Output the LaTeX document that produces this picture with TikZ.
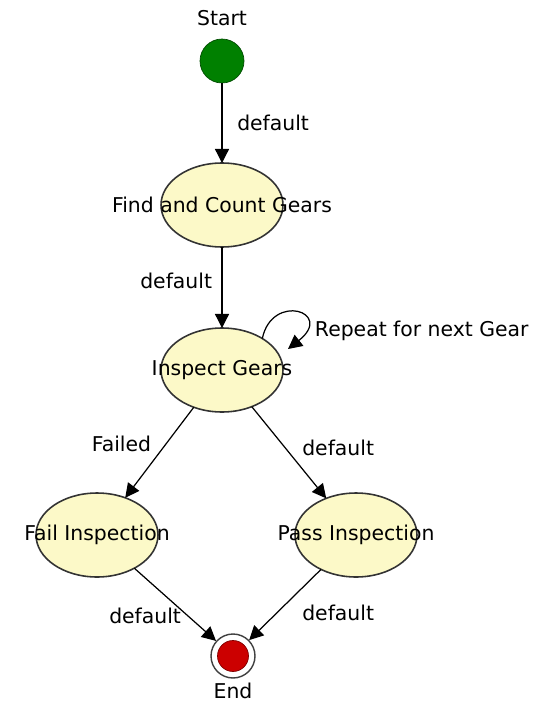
\documentclass[tikz,border=0pt]{standalone}
\usepackage{fontspec}
\setmainfont{DejaVu Sans}
\usetikzlibrary{shapes.geometric,arrows.meta}
\definecolor{stateyellow}{RGB}{252,249,200}
\definecolor{startgreen}{RGB}{0,128,0}
\definecolor{endred}{RGB}{204,0,0}
\newcommand{\lbl}{\fontsize{11.6}{14}\selectfont}

\begin{document}
\begin{tikzpicture}[x=0.02cm,y=-0.02cm,
    every node/.append style={font=\lbl},
    state/.style={ellipse,draw=black!80,line width=0.9pt,fill=stateyellow,minimum width=2.44cm,minimum height=1.68cm,inner sep=0pt,outer sep=0pt},
    flow/.style={-{Triangle[length=8pt,width=8pt]},line width=0.7pt}]
            \useasboundingbox (0,0) rectangle (540,706);
            \node[circle,draw=green!30!black,fill=startgreen,minimum size=0.88cm,inner sep=0pt,label={[label distance=4pt]above:Start}] (start) at (222,61) {};
            \node[state,label=center:Find and Count Gears] (find) at (222,205) {};
            \node[state,label=center:Inspect Gears] (inspect) at (222,370) {};
            \node[state,label=center:Fail Inspection] (fail) at (97,535) {};
            \node[state,label=center:Pass Inspection] (pass) at (356,535) {};
            \node[circle,draw=black!75,line width=0.8pt,fill=white,minimum size=0.88cm,inner sep=0pt,label={[label distance=-1pt]below:End}] (end) at (233,656) {};
            \fill[endred,draw=red!50!black] (end) circle (0.31cm);
            \coordinate (looptip) at (288,349);
            \draw[flow] (start)--node[right=5pt]{default}(find);
            \draw[flow] (find)--node[left=2pt,pos=0.42]{default}(inspect);
            \draw[flow] (inspect.38) .. controls (272,292) and (335,312) .. node[pos=0.7,right=2pt,yshift=-5pt]{Repeat for next Gear}(looptip);
            \draw[flow] (inspect)--node[left=5pt,pos=0.4]{Failed}(fail);
            \draw[flow] (inspect)--node[right=6pt,pos=0.45]{default}(pass);
            \draw[flow] (fail)--node[left=0pt,pos=0.65]{default}(end);
            \draw[flow] (pass)--node[right=11pt,pos=0.62]{default}(end);
        \end{tikzpicture}
\end{document}
